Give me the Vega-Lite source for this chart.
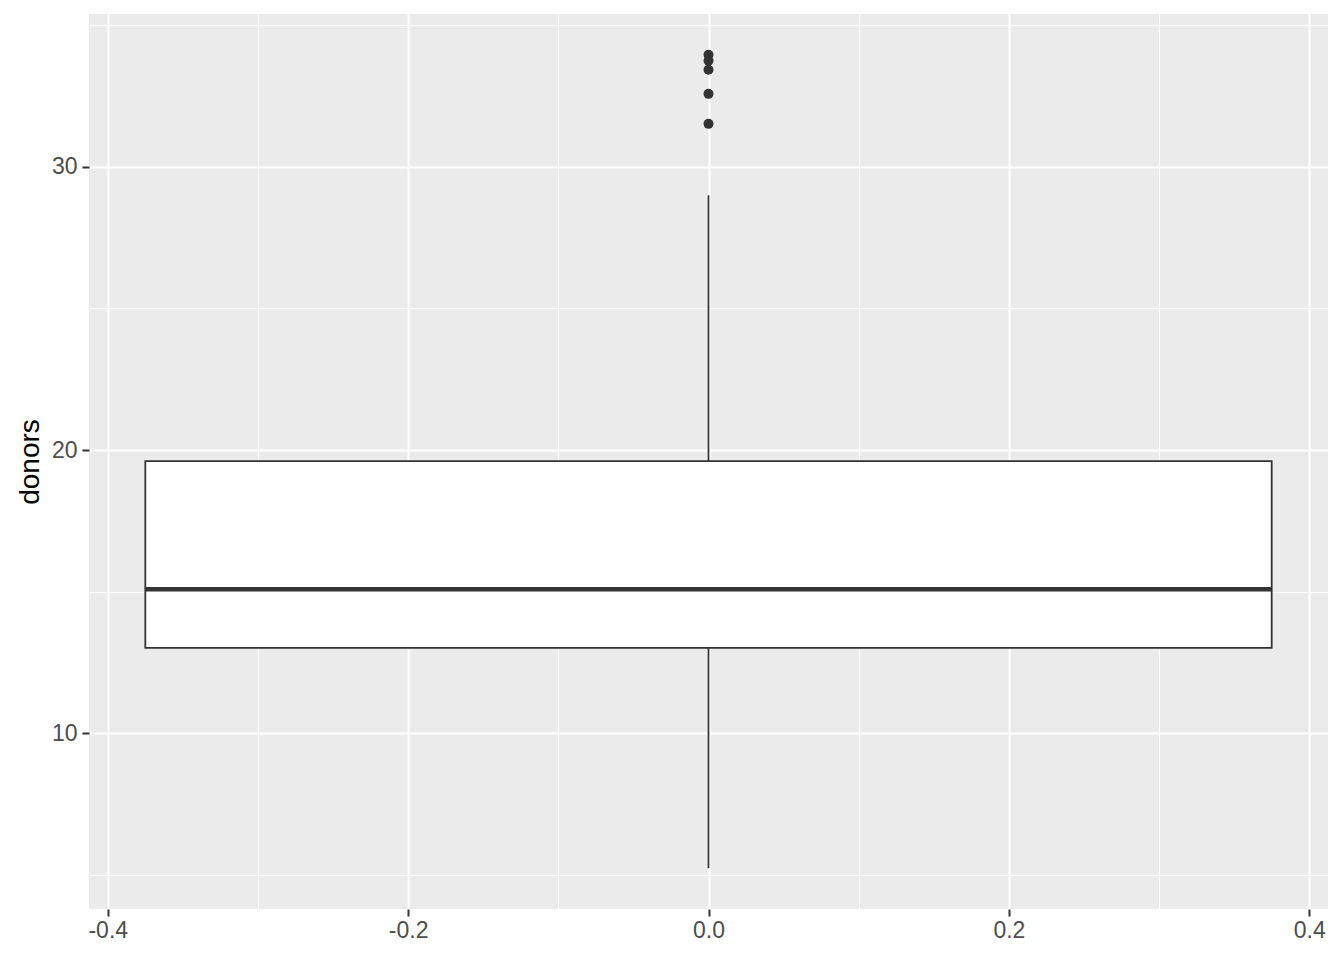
{
  "$schema": "https://vega.github.io/schema/vega-lite/v6.json",
  "width": 1239,
  "height": 895,
  "autosize": {"type": "none"},
  "padding": {"left": 89, "top": 14, "right": 16, "bottom": 51},
  "background": "white",
  "config": {
    "view": {"fill": "#EBEBEB", "stroke": null},
    "font": "Liberation Sans",
    "axis": {
      "domain": false,
      "gridColor": "white",
      "tickColor": "#333333",
      "tickSize": 7,
      "tickWidth": 2,
      "labelColor": "#4D4D4D",
      "labelFontSize": 23,
      "labelFont": "Liberation Sans",
      "titleFont": "Liberation Sans",
      "titleFontSize": 28,
      "titleFontWeight": "normal",
      "titleColor": "black"
    }
  },
  "datasets": {
    "stats": [
      {"x": 0, "xmin": -0.375, "xmax": 0.375, "lower": 5.23, "q1": 13.01, "median": 15.08, "q3": 19.61, "upper": 29.0}
    ],
    "outliers": [
      {"x": 0, "donors": 33.96},
      {"x": 0, "donors": 33.75},
      {"x": 0, "donors": 33.43},
      {"x": 0, "donors": 32.58},
      {"x": 0, "donors": 31.52}
    ]
  },
  "layer": [
    {
      "data": {"name": "stats"},
      "mark": {"type": "rule", "color": "#333333", "strokeWidth": 1.7},
      "encoding": {
        "x": {
          "field": "x", "type": "quantitative",
          "scale": {"domain": [-0.4125, 0.4125], "nice": false, "zero": false},
          "axis": {
            "title": null,
            "values": [-0.4, -0.3, -0.2, -0.1, 0, 0.1, 0.2, 0.3, 0.4],
            "labelExpr": "abs(round(datum.value*10)) % 2 === 0 ? replace(format(datum.value, '.1f'), '\u2212', '-') : ''",
            "gridWidth": {"condition": {"test": "abs(round(datum.value*10)) % 2 === 0", "value": 2}, "value": 1},
            "tickOpacity": {"condition": {"test": "abs(round(datum.value*10)) % 2 === 0", "value": 1}, "value": 0},
            "labelPadding": 3
          }
        },
        "y": {
          "field": "lower", "type": "quantitative",
          "scale": {"domain": [3.79, 35.4], "nice": false, "zero": false},
          "axis": {
            "title": "donors",
            "values": [5, 10, 15, 20, 25, 30, 35],
            "labelExpr": "round(datum.value) % 10 === 0 ? format(datum.value, 'd') : ''",
            "gridWidth": {"condition": {"test": "round(datum.value) % 10 === 0", "value": 2}, "value": 1},
            "tickOpacity": {"condition": {"test": "round(datum.value) % 10 === 0", "value": 1}, "value": 0},
            "labelPadding": 5,
            "titlePadding": 7
          }
        },
        "y2": {"field": "upper"}
      }
    },
    {
      "data": {"name": "stats"},
      "mark": {"type": "rect", "fill": "white", "stroke": "#333333", "strokeWidth": 1.8},
      "encoding": {
        "x": {"field": "xmin", "type": "quantitative"},
        "x2": {"field": "xmax"},
        "y": {"field": "q1", "type": "quantitative"},
        "y2": {"field": "q3"}
      }
    },
    {
      "data": {"name": "stats"},
      "mark": {"type": "rule", "color": "#333333", "strokeWidth": 4.5},
      "encoding": {
        "x": {"field": "xmin", "type": "quantitative"},
        "x2": {"field": "xmax"},
        "y": {"field": "median", "type": "quantitative"}
      }
    },
    {
      "data": {"name": "outliers"},
      "mark": {"type": "circle", "color": "#333333", "opacity": 1, "size": 100},
      "encoding": {
        "x": {"field": "x", "type": "quantitative"},
        "y": {"field": "donors", "type": "quantitative"}
      }
    }
  ]
}
